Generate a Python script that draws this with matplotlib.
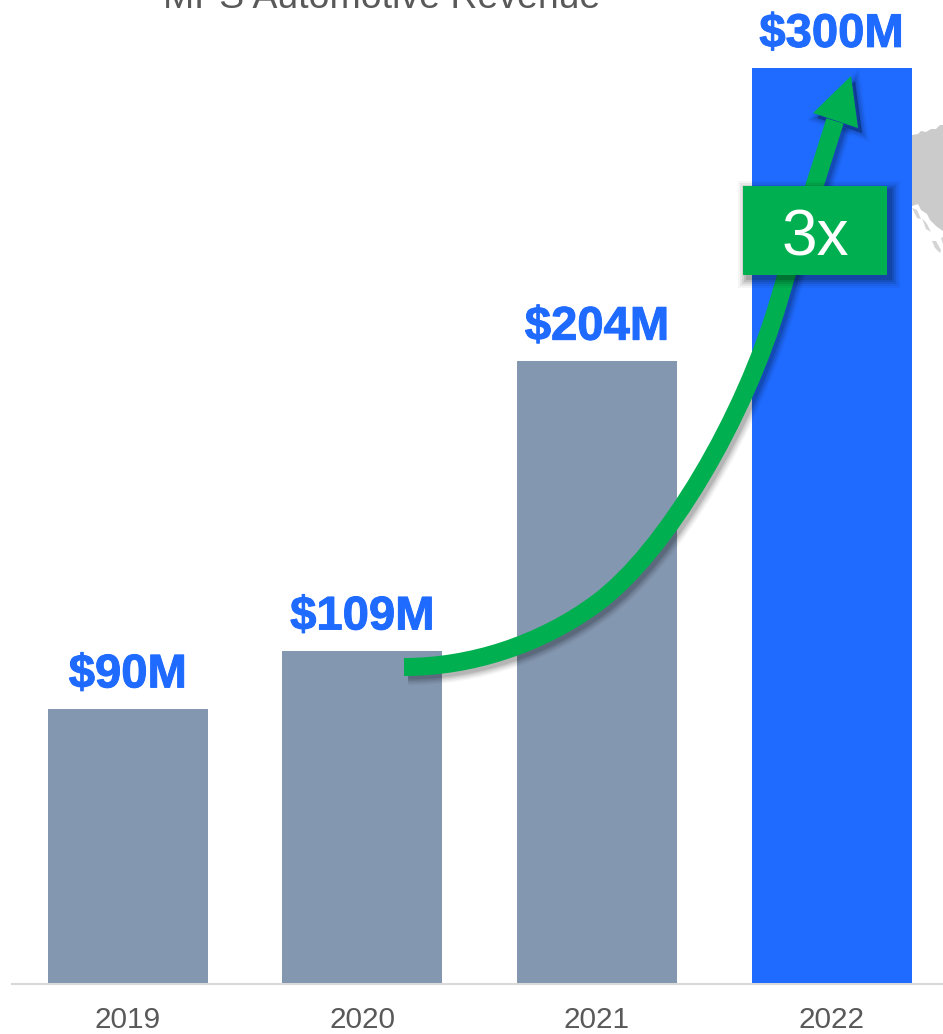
import numpy as np
import matplotlib
matplotlib.use("Agg")
import matplotlib.pyplot as plt
import matplotlib.patheffects as pe
from matplotlib.path import Path
from matplotlib.patches import PathPatch, Polygon, Rectangle
from matplotlib.transforms import Affine2D

years = ["2019", "2020", "2021", "2022"]
revenue = [90, 109, 204, 300]
labels = ["$90M", "$109M", "$204M", "$300M"]
bar_colors = ["#8497B0", "#8497B0", "#8497B0", "#1F6BFF"]

W, H = 943, 1034
BASE_Y = 983
PX_PER_M = 915 / 300
PX_PER_CAT = 234.6
X0 = 127.8
GREEN = "#00B050"

plt.rcParams["font.family"] = ["Liberation Sans", "DejaVu Sans"]

fig = plt.figure(figsize=(W / 100, H / 100), dpi=100, facecolor="white")
ax = fig.add_axes([0, 0, 1, 1])
ax.set_xlim(-X0 / PX_PER_CAT, (W - X0) / PX_PER_CAT)
ax.set_ylim(-(H - BASE_Y) / PX_PER_M, BASE_Y / PX_PER_M)
ax.axis("off")

# pixel coords of the picture, y going down, for the decorations
px = Affine2D().scale(1, -1).translate(0, H)

# bit of grey world map peeking out behind the last bar
land = [(912, 135), (918, 134), (921, 131), (926, 132), (931, 129), (936, 129),
        (940, 125), (943, 125), (943, 231), (936, 226), (930, 220), (927, 214),
        (921, 210), (918, 204), (912, 206)]
ax.add_patch(Polygon(land, closed=True, fc="#CBCBCB", ec="none", transform=px, zorder=1))
islands = [
    [(932, 241), (936, 241), (941, 250), (940, 253), (935, 248)],
    [(912, 208), (917, 210), (921, 219), (917, 218)],
    [(922, 218), (927, 224), (931, 232), (926, 229)],
    [(941, 238), (943, 237), (943, 244)],
]
for isl in islands:
    ax.add_patch(Polygon(isl, closed=True, fc="#D4D4D4", ec="none", transform=px, zorder=1))

x = np.arange(len(years))
ax.bar(x, revenue, width=160 / PX_PER_CAT, color=bar_colors, zorder=2)
ax.plot([(11 - X0) / PX_PER_CAT, (W - X0) / PX_PER_CAT], [-1 / PX_PER_M, -1 / PX_PER_M],
        color="#D9D9D9", lw=1.5, zorder=1.5, solid_capstyle="butt")

# thin stroke because the reference labels render heavier than Liberation bold
heavier = [pe.withStroke(linewidth=0.7, foreground="#1F6BFF")]
for xi, v, lab in zip(x, revenue, labels):
    ax.annotate(lab, (xi, v), xytext=(0, 8), textcoords="offset points", ha="center",
                va="bottom", fontsize=34, fontweight="bold", color="#1F6BFF", zorder=4,
                path_effects=heavier)

for xi, yr in zip(x, years):
    ax.text(xi, -(1020 - BASE_Y) / PX_PER_M, yr, ha="center", va="center",
            fontsize=21.4, color="#595959")

ax.text(381.5, 8, "MPS Automotive Revenue", transform=px, ha="center", va="baseline",
        fontsize=26.9, color="#595959", clip_on=False)

curve = Path(
    [(404, 667), (470, 667), (540, 645), (597, 603), (667, 551), (745, 417), (779, 300),
     (795, 245), (815, 185), (835, 121)],
    [Path.MOVETO] + [Path.CURVE4] * 9,
)
head = [(851, 76), (813, 113), (858, 128)]

# layered translucent strokes for the soft powerpoint shadow
for lw, a in [(27, 0.03), (24, 0.05), (21, 0.06), (18, 0.08), (15, 0.1)]:
    ax.add_patch(PathPatch(curve, fc="none", ec="black", lw=lw * 0.72, alpha=a, capstyle="butt",
                           transform=px + Affine2D().translate(4, -5), zorder=5))
    ax.add_patch(Polygon(head, closed=True, fc="black", ec="black", lw=(lw - 15) * 0.72, alpha=a,
                         transform=px + Affine2D().translate(4, -5), zorder=5))
ax.add_patch(PathPatch(curve, fc="none", ec=GREEN, lw=18 * 0.72, capstyle="butt",
                       transform=px, zorder=6))
ax.add_patch(Polygon(head, closed=True, fc=GREEN, ec="none", transform=px, zorder=6))

# 3x box
for d, a in [(9, 0.04), (7, 0.06), (5, 0.08), (3, 0.1), (1, 0.12)]:
    ax.add_patch(Rectangle((743 + 4 - d, 186 + 4 - d), 144 + 2 * d, 89 + 2 * d, fc="black",
                           ec="none", alpha=a, transform=px, zorder=7))
ax.add_patch(Rectangle((743, 186), 144, 89, fc=GREEN, ec="none", transform=px, zorder=8))
ax.text(815, 238.5, "3x", transform=px, ha="center", va="center", fontsize=46,
        color="white", zorder=9)

fig.savefig("out.png", dpi=100)
